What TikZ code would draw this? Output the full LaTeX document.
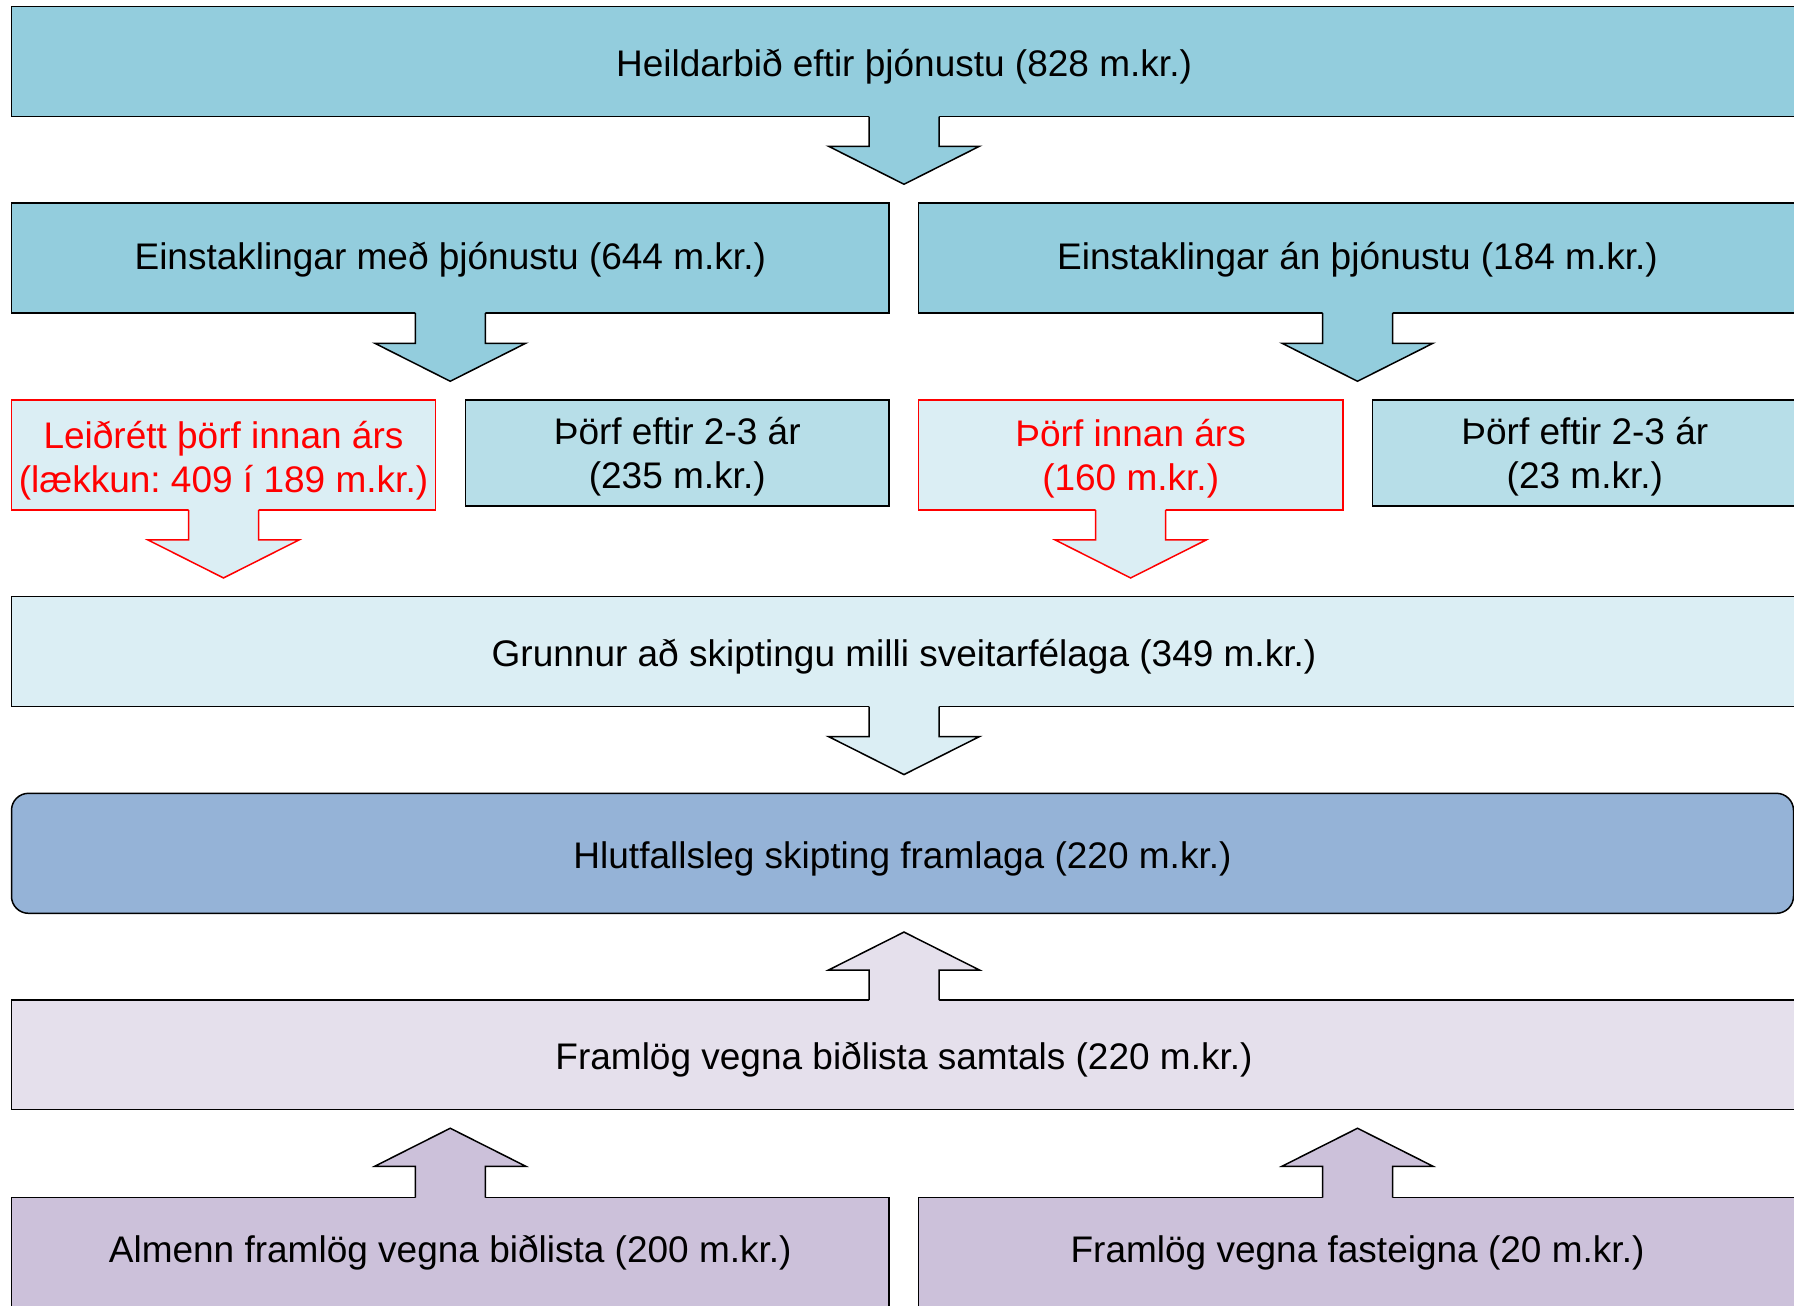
\documentclass[tikz,border=0pt]{standalone}
\usepackage{fontspec}
\setmainfont{Liberation Sans}
\usetikzlibrary{calc}
\frenchspacing
\definecolor{aqua}{HTML}{93CDDD}
\definecolor{aqualt}{HTML}{B7DEE8}
\definecolor{aquapale}{HTML}{DBEEF4}
\definecolor{bluebox}{HTML}{95B3D7}
\definecolor{lilacpale}{HTML}{E5E0EC}
\definecolor{lilac}{HTML}{CCC1DA}
\definecolor{redline}{HTML}{FF0000}
\tikzset{
  box/.style={draw=black, line width=0.75pt, rectangle, inner sep=0pt,
    font=\fontsize{18.5}{22}\selectfont},
  redbox/.style={box, draw=redline, text=redline},
  arrline/.style={line width=0.75pt, line join=miter},
}
% text lowered inside its box, box dimensions unchanged
\newcommand{\onel}[2][-3.1pt]{\raisebox{#1}[\height][\depth]{\begin{tabular}{@{}c@{}}#2\end{tabular}}}
\newcommand{\twol}[3][-2.1pt]{\raisebox{#1}[\height][\depth]{\begin{tabular}{@{}c@{}}#2\\#3\end{tabular}}}
\newcommand{\blkdown}[4]{%
  \fill[#1] let \p1=(#3.south), \p2=(#4.north) in
    (\x1-17.5pt,\y1+1pt) -- (\x1-17.5pt,\y2+28pt) -- (\x1-37.75pt,\y2+28pt) -- (\x1,\y2+9pt)
    -- (\x1+37.75pt,\y2+28pt) -- (\x1+17.5pt,\y2+28pt) -- (\x1+17.5pt,\y1+1pt) -- cycle;
  \draw[arrline,#2] let \p1=(#3.south), \p2=(#4.north) in
    (\x1-17.5pt,\y1+0.375pt) -- (\x1-17.5pt,\y2+28pt) -- (\x1-37.75pt,\y2+28pt) -- (\x1,\y2+9pt)
    -- (\x1+37.75pt,\y2+28pt) -- (\x1+17.5pt,\y2+28pt) -- (\x1+17.5pt,\y1+0.375pt);
}
\newcommand{\blkup}[4]{%
  \fill[#1] let \p1=(#3.north), \p2=(#4.south) in
    (\x1-17.5pt,\y1-1pt) -- (\x1-17.5pt,\y2-28pt) -- (\x1-37.75pt,\y2-28pt) -- (\x1,\y2-9pt)
    -- (\x1+37.75pt,\y2-28pt) -- (\x1+17.5pt,\y2-28pt) -- (\x1+17.5pt,\y1-1pt) -- cycle;
  \draw[arrline,#2] let \p1=(#3.north), \p2=(#4.south) in
    (\x1-17.5pt,\y1-0.375pt) -- (\x1-17.5pt,\y2-28pt) -- (\x1-37.75pt,\y2-28pt) -- (\x1,\y2-9pt)
    -- (\x1+37.75pt,\y2-28pt) -- (\x1+17.5pt,\y2-28pt) -- (\x1+17.5pt,\y1-0.375pt);
}
\begin{document}
\begin{tikzpicture}[x=0.5pt,y=-0.5pt]
\useasboundingbox (0,0) rectangle (1794,1306);
\clip (0,0) rectangle (1794,1306);
\fill[white] (0,0) rectangle (1794,1306);
% row 1
\node[box, fill=aqua, minimum width=892.5pt, minimum height=55pt] (top) at (904,61.7)
  {\onel{Heildarbið eftir þjónustu (828 m.kr.)}};
% row 2
\node[box, fill=aqua, minimum width=438.75pt, minimum height=55pt] (withS) at (450.25,258)
  {\onel[-1.25pt]{Einstaklingar með þjónustu (644 m.kr.)}};
\node[box, fill=aqua, minimum width=439pt, minimum height=55pt] (withoutS) at (1357.5,258)
  {\onel[-1.25pt]{Einstaklingar án þjónustu (184 m.kr.)}};
% row 3
\node[redbox, fill=aquapale, minimum width=212pt, minimum height=55pt] (corr) at (223.5,455)
  {\twol[-3.4pt]{Leiðrétt þörf innan árs}{(lækkun: 409 í 189 m.kr.)}};
\node[box, fill=aqualt, minimum width=211.75pt, minimum height=53pt] (laterA) at (677.25,453)
  {\twol{Þörf eftir 2-3 ár}{(235 m.kr.)}};
\node[redbox, fill=aquapale, minimum width=212.15pt, minimum height=55pt] (within) at (1130.65,455)
  {\twol{Þörf innan árs}{(160 m.kr.)}};
\node[box, fill=aqualt, minimum width=212.15pt, minimum height=53pt] (laterB) at (1584.85,453)
  {\twol{Þörf eftir 2-3 ár}{(23 m.kr.)}};
% row 4
\node[box, fill=aquapale, minimum width=892.5pt, minimum height=55pt] (basis) at (904,651.7)
  {\onel{Grunnur að skiptingu milli sveitarfélaga (349 m.kr.)}};
% row 5
\node[box, fill=bluebox, rounded corners=8.5pt, minimum width=891pt, minimum height=60pt] (share) at (902.5,853.3)
  {\onel{Hlutfallsleg skipting framlaga (220 m.kr.)}};
% row 6
\node[box, fill=lilacpale, minimum width=892.5pt, minimum height=54.75pt] (total) at (904,1054.75)
  {\onel{Framlög vegna biðlista samtals (220 m.kr.)}};
% row 7
\node[box, fill=lilac, minimum width=438.75pt, minimum height=55pt] (general) at (450.25,1252.7)
  {\onel[-0.6pt]{Almenn framlög vegna biðlista (200 m.kr.)}};
\node[box, fill=lilac, minimum width=439pt, minimum height=55pt] (property) at (1357.5,1252.7)
  {\onel[-0.6pt]{Framlög vegna fasteigna (20 m.kr.)}};
% block arrows
\blkdown{aqua}{black}{top}{withS}
\blkdown{aqua}{black}{withS}{corr}
\blkdown{aqua}{black}{withoutS}{within}
\blkdown{aquapale}{redline}{corr}{basis}
\blkdown{aquapale}{redline}{within}{basis}
\blkdown{aquapale}{black}{basis}{share}
\blkup{lilacpale}{black}{total}{share}
\blkup{lilac}{black}{general}{total}
\blkup{lilac}{black}{property}{total}
\end{tikzpicture}
\end{document}
